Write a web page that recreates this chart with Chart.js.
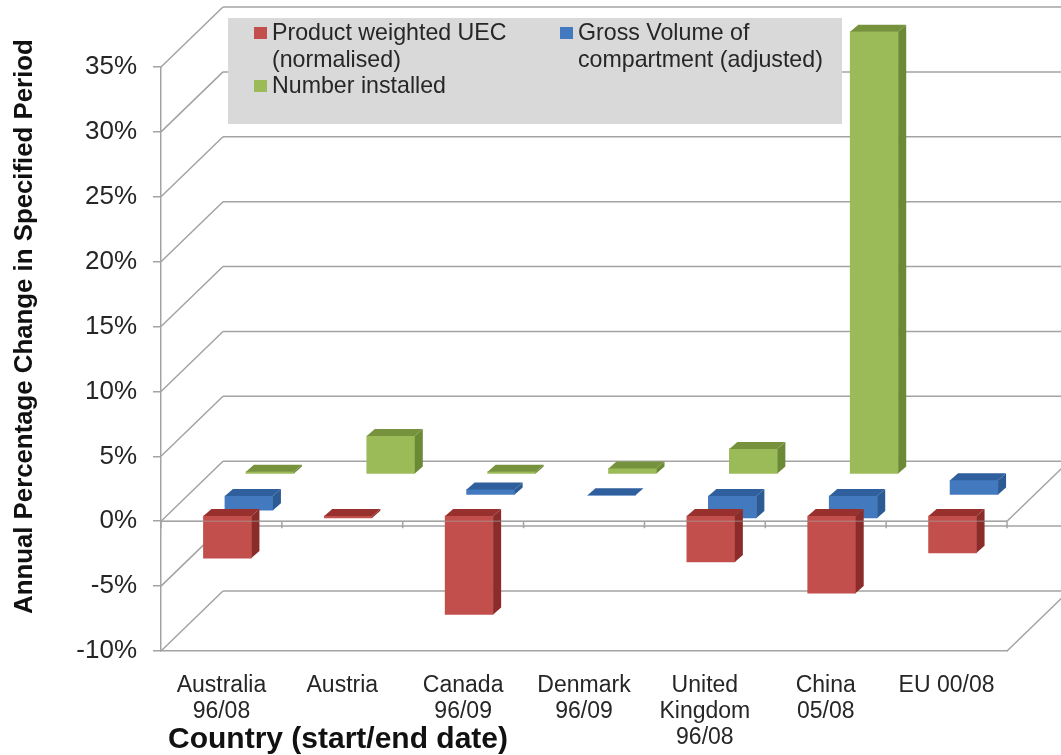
<!DOCTYPE html>
<html>
<head>
<meta charset="utf-8">
<style>
body { margin: 0; background: #fff; }
canvas { display: block; }
</style>
<script src="https://cdn.jsdelivr.net/npm/chart.js@4"></script>
</head>
<body>
<canvas id="chart" width="1061" height="755"></canvas>
<script>
const categories = [
    ['Australia', '96/08'],
    ['Austria'],
    ['Canada', '96/09'],
    ['Denmark', '96/09'],
    ['United', 'Kingdom', '96/08'],
    ['China', '05/08'],
    ['EU 00/08']
];
const uecValues = [-3.3, -0.2, -7.65, null, -3.6, -6.0, -2.9];
const volumeValues = [-1.15, null, 0.45, 0, -1.75, -1.75, 1.15];
const installedValues = [0.2, 2.95, 0.2, 0.45, 1.95, 34.1, null];
const uecName = ['Product weighted UEC', '(normalised)'];
const volumeName = ['Gross Volume of', 'compartment (adjusted)'];
const installedName = ['Number installed'];
const yTitle = 'Annual Percentage Change in Specified Period';
const xTitle = 'Country (start/end date)';

const GRID = '#a3a3a3';
const FONT = '"Liberation Sans", Arial, sans-serif';
const TEXT = '#262626';

// how far each series sits back in the fake 3D room, and the colours of its faces
const depth = [
    { dx: 6, dy: -6, front: '#c24f4c', top: '#98302e', side: '#8b2c2a' },
    { dx: 27.5, dy: -26, front: '#4379bf', top: '#2f5f9c', side: '#2c5a92' },
    { dx: 48.5, dy: -47, front: '#9bbb59', top: '#76923c', side: '#6b8a36' }
];
const faceDepth = { dx: 8, dy: -7 };
const wall = { dx: 62, dy: -60 };

function line(ctx, x1, y1, x2, y2) {
    ctx.beginPath();
    ctx.moveTo(x1, y1);
    ctx.lineTo(x2, y2);
    ctx.stroke();
}

function poly(ctx, pts, color) {
    ctx.fillStyle = color;
    ctx.beginPath();
    pts.forEach((p, i) => i ? ctx.lineTo(p[0], p[1]) : ctx.moveTo(p[0], p[1]));
    ctx.closePath();
    ctx.fill();
}

const room = {
    id: 'room',
    beforeDatasetsDraw(chart) {
        const { ctx, scales: { x, y }, chartArea: a } = chart;
        const zero = y.getPixelForValue(0);
        ctx.save();
        ctx.strokeStyle = GRID;
        ctx.lineWidth = 1.5;
        y.ticks.forEach(t => {
            const py = y.getPixelForValue(t.value);
            line(ctx, a.left, py, a.left + wall.dx, py + wall.dy);
            line(ctx, a.left + wall.dx, py + wall.dy, chart.width, py + wall.dy);
        });
        // right hand edge of the floor and of the zero plane
        [zero, a.bottom].forEach(py => {
            line(ctx, a.right, py, a.right + wall.dx, py + wall.dy);
        });
        line(ctx, a.left, zero, a.right, zero);
        const step = x.getPixelForTick(1) - x.getPixelForTick(0);
        for (let i = 0; i <= categories.length; i++) {
            const px = a.left + step * i;
            line(ctx, px, zero, px, zero + 7);
        }
        ctx.restore();
    },
    beforeDatasetDraw(chart, args) {
        const d = depth[args.index];
        chart.ctx.save();
        chart.ctx.translate(d.dx, d.dy);
    },
    afterDatasetDraw(chart, args) {
        const ctx = chart.ctx;
        const d = depth[args.index];
        args.meta.data.forEach((bar, i) => {
            if (chart.data.datasets[args.index].data[i] === null) return;
            const p = bar.getProps(['x', 'y', 'base', 'width'], true);
            const l = p.x - p.width / 2;
            const r = p.x + p.width / 2;
            const t = Math.min(p.y, p.base);
            const b = Math.max(p.y, p.base);
            const f = faceDepth;
            poly(ctx, [[r, t], [r + f.dx, t + f.dy], [r + f.dx, b + f.dy], [r, b]], d.side);
            poly(ctx, [[l, t], [l + f.dx, t + f.dy], [r + f.dx, t + f.dy], [r, t]], d.top);
        });
        ctx.restore();
    },
    afterDatasetsDraw(chart) {
        const { ctx, scales: { y }, chartArea: a } = chart;
        const zero = y.getPixelForValue(0);
        ctx.save();
        // the zero line shows faintly through the front bars
        ctx.strokeStyle = 'rgba(163,163,163,0.45)';
        ctx.lineWidth = 1.5;
        line(ctx, a.left, zero, a.right, zero);

        ctx.fillStyle = '#d9d9d9';
        ctx.fillRect(228, 18, 614, 106);
        ctx.font = '23.2px ' + FONT;
        ctx.textBaseline = 'alphabetic';
        const swatch = (x, y, color) => {
            ctx.fillStyle = color;
            ctx.fillRect(x, y, 13, 12);
        };
        swatch(254, 27, depth[0].front);
        swatch(560, 27, depth[1].front);
        swatch(254, 80, depth[2].front);
        ctx.fillStyle = TEXT;
        uecName.forEach((s, i) => ctx.fillText(s, 272, 40 + i * 26.5));
        volumeName.forEach((s, i) => ctx.fillText(s, 578, 40 + i * 26.5));
        installedName.forEach(s => ctx.fillText(s, 272, 93));

        ctx.font = 'bold 30px ' + FONT;
        ctx.fillStyle = '#111';
        ctx.textAlign = 'left';
        ctx.fillText(xTitle, 168, 748);
        ctx.translate(32, 614);
        ctx.rotate(-Math.PI / 2);
        ctx.font = 'bold 25.8px ' + FONT;
        ctx.fillText(yTitle, 0, 0);
        ctx.restore();
    }
};

function barSeries(name, values, i) {
    return {
        label: name.join(' '),
        data: values,
        backgroundColor: depth[i].front,
        borderWidth: 0,
        barThickness: 48,
        clip: false
    };
}

new Chart(document.getElementById('chart'), {
    type: 'bar',
    data: {
        labels: categories,
        datasets: [
            barSeries(uecName, uecValues, 0),
            barSeries(volumeName, volumeValues, 1),
            barSeries(installedName, installedValues, 2)
        ]
    },
    options: {
        responsive: false,
        animation: false,
        layout: { padding: { top: 67, right: 54, left: 0, bottom: 0 } },
        plugins: {
            legend: { display: false },
            tooltip: { enabled: false }
        },
        datasets: { bar: { grouped: false } },
        scales: {
            x: {
                afterFit: s => { s.height = 104; },
                grid: { display: false },
                border: { display: true, color: GRID, width: 1.5 },
                ticks: {
                    color: TEXT,
                    padding: 14,
                    maxRotation: 0,
                    autoSkip: false,
                    font: { family: FONT, size: 23, lineHeight: 1.13 }
                }
            },
            y: {
                min: -10,
                max: 35,
                afterFit: s => { s.width = 161; },
                grid: { drawOnChartArea: false, color: GRID, lineWidth: 1.5, tickLength: 8 },
                border: { color: GRID, width: 1.5 },
                ticks: {
                    stepSize: 5,
                    color: TEXT,
                    padding: 16,
                    font: { family: FONT, size: 26 },
                    callback: v => v + '%'
                }
            }
        }
    },
    plugins: [room]
});
</script>
</body>
</html>
